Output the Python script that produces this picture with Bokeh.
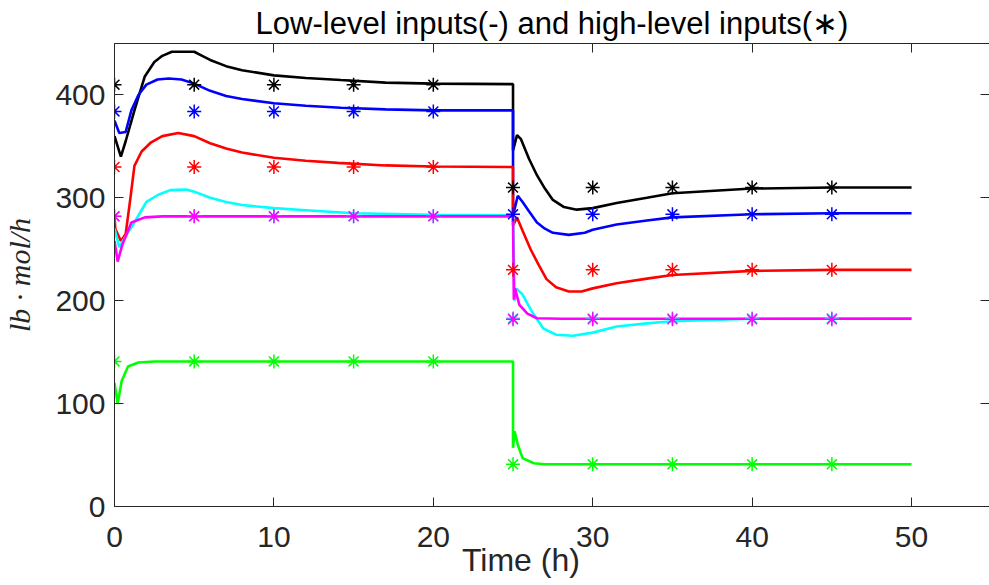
from bokeh.plotting import figure
from bokeh.models import Range1d, FixedTicker, LinearAxis
from bokeh.embed import file_html
from bokeh.resources import INLINE

# ---------------- data ----------------
black_t = [0, 0.4, 0.7, 1.25, 1.9, 2.5, 3.0, 3.6, 5.0, 5.5, 6, 7, 8, 10, 12, 14.2, 17, 20, 25,
           25, 25.25, 25.5, 26, 26.5, 27, 27.5, 28.2, 29, 30, 31.5, 33.4, 35, 40, 45, 50]
black_v = [360, 340, 355, 385, 418, 432, 438, 442, 442, 438, 434, 428, 424, 419, 416.5, 414.5, 412, 411, 410.5,
           346, 361, 357, 338, 322, 309, 298, 291, 288.5, 290, 295, 300, 304.5, 309, 310, 310]

blue_t = [0, 0.3, 0.7, 1.06, 1.5, 2, 2.7, 3.4, 4.2, 5, 6, 7, 8, 10, 12, 14.2, 17, 20, 25,
          25, 25.3, 25.6, 26, 26.5, 27, 27.5, 28.5, 29.5, 30, 31.5, 33.4, 35, 40, 45, 50]
blue_v = [375, 363, 364, 385, 400, 410, 415, 416, 415, 411, 404, 399, 396, 392, 389.5, 387.5, 386, 385, 385,
          283, 302, 296, 287, 276, 270, 266, 264, 266, 269, 274, 278, 281, 284, 285, 285]

red_t = [0, 0.05, 0.4, 0.7, 1.0, 1.25, 1.7, 2.3, 3, 4, 5, 6, 7, 8, 10, 12, 14, 17, 20, 25,
         25, 25.25, 25.6, 26.1, 26.6, 27.1, 27.7, 28.5, 29.3, 30, 31.5, 33.4, 35, 40, 45, 50]
red_v = [282, 270, 258, 265, 300, 331, 345, 354, 360, 363, 360, 353, 348, 344, 339, 336, 334, 331.5, 330.5, 330,
         273, 281, 268, 250, 235, 221, 213, 209, 209, 212, 217, 221.5, 225, 229, 230, 230]

cyan_t = [0, 0.3, 0.75, 1.25, 2, 2.75, 3.5, 4.5, 5, 6, 7, 8, 10, 12, 15, 20, 25,
          25.1, 25.2, 25.6, 26.2, 26.9, 27.7, 28.75, 30, 31.5, 33.4, 35, 40, 50]
cyan_v = [270, 252, 264, 276, 296, 303, 307.5, 308, 306, 300, 296, 293, 290, 288, 285, 283.5, 283,
          200, 212, 206, 189, 173, 167, 166, 169, 175, 178, 180, 182.5, 183]

magenta_t = [0, 0.2, 0.5, 1.06, 1.9, 3, 25,
             25.05, 25.12, 25.4, 25.9, 26.5, 28, 50]
magenta_v = [258, 238, 255, 276, 281, 282, 282,
             201, 212, 196, 187.5, 183, 182.5, 182.5]

green_t = [0, 0.2, 0.45, 0.85, 1.5, 2.5, 25,
           25, 25.1, 25.3, 25.6, 26.3, 27, 50]
green_v = [120, 100, 122, 136, 140, 141, 141,
           57, 73, 60, 47, 42, 41, 41]

# high-level inputs (asterisks)
star_t = [0, 5, 10, 15, 20, 25, 30, 35, 40, 45]
black_s = [410, 410, 410, 410, 410, 310, 310, 310, 310, 310]
blue_s = [384, 384, 384, 384, 384, 284, 284, 284, 284, 284]
red_s = [330, 330, 330, 330, 330, 230, 230, 230, 230, 230]
cyan_s = [282, 282, 282, 282, 282, 183, 183, 183, 183, 183]
magenta_s = [282, 282, 282, 282, 282, 182, 182, 182, 182, 182]
green_s = [141, 141, 141, 141, 141, 41, 41, 41, 41, 41]

x_ticks = [0, 10, 20, 30, 40, 50]
y_ticks = [0, 100, 200, 300, 400]

title_text = "Low-level inputs(-) and high-level inputs(\u2217)"
xlabel_text = "Time (h)" + "\u00a0" * 7
ylabel_text = "lb \u00b7 mol/h"

# ---------------- figure ----------------
AX = "#262626"
FONT = "Liberation Sans"

p = figure(width=989, height=585, x_range=Range1d(0, 54.89), y_range=Range1d(0, 450),
           output_backend="svg", toolbar_location=None,
           min_border_left=113, min_border_right=0, min_border_top=40, min_border_bottom=79)
p.xgrid.visible = False
p.ygrid.visible = False
p.outline_line_color = None
p.background_fill_color = "white"
p.border_fill_color = "white"

p.title.text = title_text
p.title.text_font = FONT
p.title.text_font_size = "31px"
p.title.text_font_style = "normal"
p.title.text_color = "#000000"
p.title.align = "center"
p.title.standoff = 6
p.title.offset = -20


def style_axis(ax, ticks, show_labels=True, standoff=10):
    ax.ticker = FixedTicker(ticks=ticks)
    ax.major_tick_in = 9
    ax.major_tick_out = 0
    ax.minor_tick_in = 0
    ax.minor_tick_out = 0
    ax.axis_line_color = AX
    ax.axis_line_width = 1
    ax.major_tick_line_color = AX
    ax.major_tick_line_width = 1
    ax.major_label_text_font = FONT
    ax.major_label_text_color = AX
    if show_labels:
        ax.major_label_text_font_size = "30px"
        ax.major_label_standoff = standoff
    else:
        ax.major_label_text_font_size = "0px"
        ax.major_label_standoff = 0


style_axis(p.xaxis[0], x_ticks, True, 20)
style_axis(p.yaxis[0], y_ticks, True, 9)

p.xaxis[0].axis_label = xlabel_text
p.xaxis[0].axis_label_text_font = FONT
p.xaxis[0].axis_label_text_font_size = "32px"
p.xaxis[0].axis_label_text_font_style = "normal"
p.xaxis[0].axis_label_text_color = AX
p.xaxis[0].axis_label_standoff = -8

p.yaxis[0].axis_label = ylabel_text
p.yaxis[0].axis_label_text_font = "Liberation Serif"
p.yaxis[0].axis_label_text_font_size = "30px"
p.yaxis[0].axis_label_text_font_style = "italic"
p.yaxis[0].axis_label_text_color = AX
p.yaxis[0].axis_label_standoff = 16

top_ax = LinearAxis()
style_axis(top_ax, x_ticks, False)
p.add_layout(top_ax, "above")

right_ax = LinearAxis()
style_axis(right_ax, y_ticks, False)
right_ax.axis_line_color = None
p.add_layout(right_ax, "right")

LW = 2.6
series = [
    (black_t, black_v, black_s, "#000000"),
    (blue_t, blue_v, blue_s, "#0000ff"),
    (red_t, red_v, red_s, "#ff0000"),
    (cyan_t, cyan_v, cyan_s, "#00ffff"),
    (magenta_t, magenta_v, magenta_s, "#ff00ff"),
    (green_t, green_v, green_s, "#00ff00"),
]
for t, v, s, c in series:
    p.line(t, v, line_color=c, line_width=LW)
for t, v, s, c in series:
    p.scatter(star_t, s, marker="asterisk", size=14, line_color=c, line_width=1.5)

open("out.html", "w").write(file_html(p, INLINE))
